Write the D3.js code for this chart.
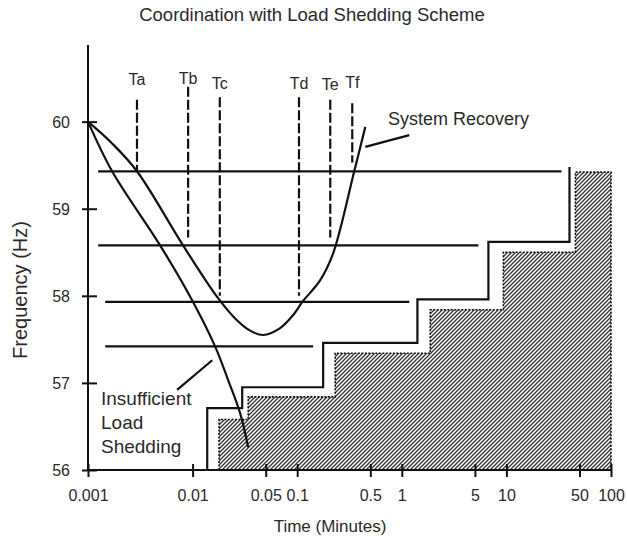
<!DOCTYPE html>
<html lang="en">
<head>
  <meta charset="UTF-8" />
  <title>Coordination with Load Shedding Scheme</title>
  <script src="https://d3js.org/d3.v7.min.js"></script>
  <style>
    body {
      margin: 0;
      background: #fff;
      font-family: "Liberation Sans", Arial, Helvetica, sans-serif;
    }
    text { fill: #2a2a2a; }
    .axis path, .axis line { stroke: #111; stroke-width: 2px; }
    .axis text { font-size: 16px; fill: #2a2a2a; font-family: "Liberation Sans", Arial, sans-serif; }
    .ink { fill: none; stroke: #111; stroke-width: 2.2px; }
  </style>
</head>
<body>
<svg width="627" height="540"></svg>

<script>
// ---- data (time in minutes, frequency in Hz) ----
const xTicks = [0.001, 0.01, 0.05, 0.1, 0.5, 1, 5, 10, 50, 100];
const yTicks = [56, 57, 58, 59, 60];

// frequency decay that recovers after shedding
const recoveryCurve = [
  [0.001, 60], [0.0017, 59.75], [0.00294, 59.43], [0.0081, 58.58],
  [0.0171, 57.99], [0.0255, 57.74], [0.0355, 57.6], [0.0473, 57.55],
  [0.0687, 57.63], [0.0916, 57.78], [0.112, 57.93], [0.166, 58.18],
  [0.221, 58.49], [0.351, 59.43], [0.448, 59.94]
];

// frequency decay with not enough shedding
const insufficientCurve = [
  [0.001, 60], [0.0017, 59.43], [0.00489, 58.58], [0.00989, 57.95],
  [0.0164, 57.42], [0.0219, 57.03], [0.0285, 56.65], [0.034, 56.26]
];

// load shedding steps (horizontal pickup levels)
const shedLevels = [
  { f: 59.43, t0: 0.00125, t1: 33.6 },
  { f: 58.58, t0: 0.00125, t1: 5.4 },
  { f: 57.93, t0: 0.00146, t1: 1.18 },
  { f: 57.42, t0: 0.00146, t1: 0.142 }
];

// outer coordination boundary
const boundarySteps = [
  [0.0138, 56], [0.0138, 56.71], [0.0298, 56.71], [0.0298, 56.95],
  [0.177, 56.95], [0.177, 57.46], [1.41, 57.46], [1.41, 57.96],
  [6.73, 57.96], [6.73, 58.62], [40.1, 58.62], [40.1, 59.48]
];

// hatched (turbine limit) region
const hatchSteps = [
  [0.0179, 56], [0.0179, 56.58], [0.034, 56.58], [0.034, 56.84],
  [0.231, 56.84], [0.231, 57.34], [1.87, 57.34], [1.87, 57.84],
  [9.36, 57.84], [9.36, 58.5], [45.7, 58.5], [45.7, 59.42],
  [100, 59.42], [100, 56]
];

// time markers Ta..Tf
const markerNames = ["Ta", "Tb", "Tc", "Td", "Te", "Tf"];
const markerTimes = [0.00294, 0.00906, 0.0182, 0.104, 0.207, 0.336];
const markerTop = [60.25, 60.4, 60.28, 60.28, 60.25, 60.21];
const markerBottom = [59.43, 58.67, 58.0, 58.0, 58.67, 59.53];
const markerLabelF = [60.42, 60.43, 60.38, 60.38, 60.36, 60.39];

// annotation leaders
const recoveryLeader = [[0.448, 59.71], [1.18, 59.845]];
const insufficientLeader = [[0.00711, 56.92], [0.0154, 57.26]];

// ---- layout ----
const svg = d3.select("svg");

const x = d3.scaleLog().domain([0.001, 100]).range([88, 611]);
const y = d3.scaleLinear().domain([56, 60.88]).range([470, 45]);

const line = d3.line().x(d => x(d[0])).y(d => y(d[1]));
const smooth = d3.line().x(d => x(d[0])).y(d => y(d[1])).curve(d3.curveCatmullRom.alpha(0.5));

// hatch pattern
const defs = svg.append("defs");
defs.append("pattern")
  .attr("id", "hatch")
  .attr("patternUnits", "userSpaceOnUse")
  .attr("width", 4).attr("height", 4)
  .append("path")
  .attr("d", "M-1,1 l2,-2 M0,4 l4,-4 M3,5 l2,-2")
  .attr("stroke", "#333")
  .attr("stroke-width", 1.3);

// title
svg.append("text")
  .attr("x", 312).attr("y", 21)
  .attr("text-anchor", "middle")
  .style("font-size", "18.5px")
  .text("Coordination with Load Shedding Scheme");

// hatched region
svg.append("path")
  .attr("d", line(hatchSteps) + "Z")
  .attr("fill", "url(#hatch)")
  .attr("stroke", "#111")
  .attr("stroke-width", 1.6)
  .attr("stroke-dasharray", "2,1.5");

// boundary
svg.append("path").attr("class", "ink").attr("d", line(boundarySteps));

// shedding levels
svg.selectAll(".lvl")
  .data(shedLevels)
  .enter().append("line")
  .attr("class", "ink lvl")
  .attr("x1", d => x(d.t0)).attr("x2", d => x(d.t1))
  .attr("y1", d => y(d.f)).attr("y2", d => y(d.f));

// time markers
markerNames.forEach((name, i) => {
  svg.append("line")
    .attr("class", "ink")
    .attr("x1", x(markerTimes[i])).attr("x2", x(markerTimes[i]))
    .attr("y1", y(markerTop[i])).attr("y2", y(markerBottom[i]))
    .attr("stroke-dasharray", "10,3");
  svg.append("text")
    .attr("x", x(markerTimes[i])).attr("y", y(markerLabelF[i]))
    .attr("text-anchor", "middle")
    .style("font-size", "16px")
    .text(name);
});

// curves
svg.append("path").attr("class", "ink").attr("d", smooth(recoveryCurve));
svg.append("path").attr("class", "ink").attr("d", smooth(insufficientCurve));

// annotations
svg.append("path").attr("class", "ink").attr("d", line(recoveryLeader));
svg.append("path").attr("class", "ink").attr("d", line(insufficientLeader));

svg.append("text")
  .attr("x", 388).attr("y", 125)
  .style("font-size", "18px")
  .text("System Recovery");

const ins = svg.append("text").style("font-size", "19px");
["Insufficient", "Load", "Shedding"].forEach((s, i) => {
  ins.append("tspan").attr("x", 101).attr("y", 405 + i * 24).text(s);
});

// axes
const xAxis = svg.append("g")
  .attr("class", "axis")
  .attr("transform", "translate(0,470)")
  .call(d3.axisBottom(x).tickValues(xTicks).tickFormat(d3.format("~g")).tickSize(0).tickPadding(0));
xAxis.select(".domain").attr("d", `M${x(0.001)},0H${x(100)}`);
xAxis.selectAll(".tick line").attr("y1", -6).attr("y2", 7);
xAxis.selectAll(".tick text").attr("y", 31).attr("dy", null);

const yAxis = svg.append("g")
  .attr("class", "axis")
  .attr("transform", `translate(${x(0.001)},0)`)
  .call(d3.axisLeft(y).tickValues(yTicks).tickFormat(d3.format("d")).tickSize(0).tickPadding(0));
yAxis.select(".domain").attr("d", `M0,${y(56)}V${y(60.88)}`);
yAxis.selectAll(".tick line").attr("x1", -6).attr("x2", 9);
yAxis.selectAll(".tick text").attr("x", -18).attr("dy", "0.35em");

// axis titles
svg.append("text")
  .attr("x", 330).attr("y", 532)
  .attr("text-anchor", "middle")
  .style("font-size", "17px")
  .text("Time (Minutes)");

svg.append("text")
  .attr("transform", "translate(27,290) rotate(-90)")
  .attr("text-anchor", "middle")
  .style("font-size", "20px")
  .text("Frequency (Hz)");
</script>
</body>
</html>
